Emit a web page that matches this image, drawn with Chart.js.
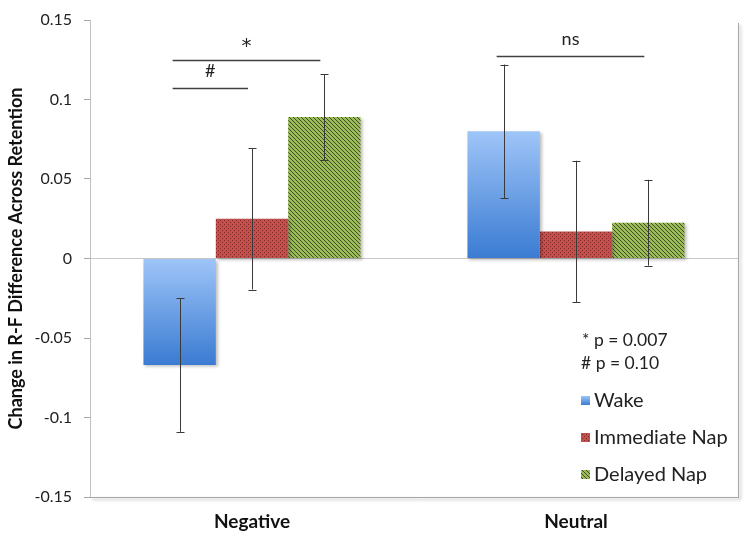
<!DOCTYPE html>
<html>
<head>
<meta charset="utf-8">
<script src="https://cdn.jsdelivr.net/npm/chart.js@4"></script>
<style>
  html, body { margin: 0; padding: 0; background: #fff; }
  #wrap { width: 749px; height: 534px; }
</style>
</head>
<body>
<div id="wrap"><canvas id="chart" width="749" height="534"></canvas></div>
<script>
const categories = ["Negative", "Neutral"];
const seriesNames = ["Wake", "Immediate Nap", "Delayed Nap"];
const wake = [-0.067, 0.080];
const immediateNap = [0.025, 0.017];
const delayedNap = [0.089, 0.0225];
const wakeErr = [0.042, 0.042];
const immediateErr = [0.0445, 0.0445];
const delayedErr = [0.027, 0.027];
const yTicks = [-0.15, -0.1, -0.05, 0, 0.05, 0.1, 0.15];
const notes = ["* p = 0.007", "# p = 0.10"];
// significance brackets: [label, y value, category, from series, to series]
const brackets = [
  ["*", 0.125, 0, 0, 2],
  ["#", 0.107, 0, 0, 1],
  ["ns", 0.1275, 1, 0, 2],
];

const FONT = "Lato, 'Open Sans', sans-serif";

function makePattern(base, dark, kind) {
  const c = document.createElement("canvas");
  c.width = 4; c.height = 4;
  const g = c.getContext("2d");
  g.fillStyle = base;
  g.fillRect(0, 0, 4, 4);
  g.fillStyle = dark;
  if (kind === "dots") {
    g.fillRect(0, 0, 1, 1);
    g.fillRect(2, 2, 1, 1);
  } else {
    for (let i = 0; i < 4; i++) g.fillRect(i, i, 1, 1);
  }
  return g.createPattern(c, "repeat");
}

const redPattern = makePattern("#c4504e", "#7a2927", "dots");
const greenPattern = makePattern("#9bbb59", "#3d4f22", "lines");

function blueGradient(ctx, y0, y1) {
  const gr = ctx.createLinearGradient(0, y0, 0, y1);
  gr.addColorStop(0, "#9fc5f8");
  gr.addColorStop(1, "#3a7bd2");
  return gr;
}

function wakeColor(context) {
  const chart = context.chart;
  const y = chart.scales.y;
  if (!chart.chartArea || !y || context.raw === undefined) return "#6a9fe4";
  const a = y.getPixelForValue(0);
  const b = y.getPixelForValue(context.raw);
  return blueGradient(chart.ctx, Math.min(a, b), Math.max(a, b));
}

const errors = [wakeErr, immediateErr, delayedErr];

const extras = {
  id: "extras",
  beforeDatasetsDraw(chart) {
    const { ctx } = chart;
    ctx.save();
    ctx.shadowColor = "rgba(0,0,0,0.25)";
    ctx.shadowOffsetX = 2;
    ctx.shadowOffsetY = 2;
    ctx.shadowBlur = 3;
  },
  afterDatasetsDraw(chart) {
    const { ctx, chartArea, scales } = chart;
    ctx.restore();
    const y = scales.y;

    // frame on the right with a soft shadow
    ctx.save();
    ctx.shadowColor = "rgba(0,0,0,0.3)";
    ctx.shadowOffsetX = 2;
    ctx.shadowOffsetY = 2;
    ctx.shadowBlur = 3;
    ctx.strokeStyle = "#a6a6a6";
    ctx.lineWidth = 1;
    ctx.beginPath();
    ctx.moveTo(chartArea.left, chartArea.bottom + 0.5);
    ctx.lineTo(chartArea.right + 0.5, chartArea.bottom + 0.5);
    ctx.lineTo(chartArea.right + 0.5, chartArea.top + 3);
    ctx.stroke();
    ctx.restore();

    // error bars
    ctx.save();
    ctx.strokeStyle = "#3a3a3a";
    ctx.lineWidth = 1;
    errors.forEach((err, i) => {
      const meta = chart.getDatasetMeta(i);
      meta.data.forEach((bar, j) => {
        const v = chart.data.datasets[i].data[j];
        const x = Math.round(bar.x) + 0.5;
        const top = y.getPixelForValue(v + err[j]);
        const bot = y.getPixelForValue(v - err[j]);
        ctx.beginPath();
        ctx.moveTo(x, top); ctx.lineTo(x, bot);
        ctx.moveTo(x - 4, Math.round(top) + 0.5); ctx.lineTo(x + 4, Math.round(top) + 0.5);
        ctx.moveTo(x - 4, Math.round(bot) + 0.5); ctx.lineTo(x + 4, Math.round(bot) + 0.5);
        ctx.stroke();
      });
    });
    ctx.restore();

    // significance brackets
    ctx.save();
    ctx.strokeStyle = "#404040";
    ctx.lineWidth = 1.5;
    ctx.fillStyle = "#222";
    ctx.textAlign = "center";
    ctx.textBaseline = "middle";
    brackets.forEach(([label, val, cat, s0, s1]) => {
      const x0 = chart.getDatasetMeta(s0).data[cat].x - 7;
      const x1 = chart.getDatasetMeta(s1).data[cat].x - 4;
      const yy = Math.round(y.getPixelForValue(val)) + 0.5;
      ctx.beginPath();
      ctx.moveTo(x0, yy); ctx.lineTo(x1, yy);
      ctx.stroke();
      if (label === "*") {
        ctx.font = "20px 'DejaVu Sans', sans-serif";
        ctx.fillText(label, (x0 + x1) / 2, yy - 14);
      } else {
        ctx.font = "18px " + FONT;
        ctx.fillText(label, (x0 + x1) / 2, yy - 17);
      }
    });
    ctx.restore();

    // p-value notes and legend
    ctx.save();
    ctx.fillStyle = "#222";
    ctx.font = "17.5px " + FONT;
    ctx.textBaseline = "middle";
    ctx.textAlign = "left";
    const nx = 581;
    ctx.fillText(notes[0], nx + 1, 340);
    ctx.fillText(notes[1], nx, 363);
    const fills = [null, redPattern, greenPattern];
    const ly = [400, 437, 474];
    ctx.font = "20px " + FONT;
    seriesNames.forEach((name, i) => {
      const sy = ly[i] - 4;
      ctx.fillStyle = i === 0 ? blueGradient(ctx, sy, sy + 9) : fills[i];
      ctx.fillRect(581, sy, 9, 9);
      ctx.fillStyle = "#222";
      ctx.fillText(name, 594, ly[i] + 1);
    });
    ctx.restore();
  }
};

new Chart(document.getElementById("chart"), {
  type: "bar",
  data: {
    labels: categories,
    datasets: [
      { label: seriesNames[0], data: wake, backgroundColor: wakeColor },
      { label: seriesNames[1], data: immediateNap, backgroundColor: redPattern },
      { label: seriesNames[2], data: delayedNap, backgroundColor: greenPattern },
    ],
  },
  options: {
    responsive: false,
    animation: false,
    events: [],
    layout: { padding: { top: 17, right: 11, left: 0, bottom: 0 } },
    datasets: { bar: { categoryPercentage: 0.67, barPercentage: 1.0, borderWidth: 0 } },
    plugins: {
      legend: { display: false },
      tooltip: { enabled: false },
    },
    scales: {
      x: {
        grid: { display: false },
        border: { color: "#a6a6a6" },
        ticks: { color: "#111", padding: 5, font: { family: FONT, size: 19, weight: "bold" } },
        afterFit(scale) { scale.height = 37; },
      },
      y: {
        min: -0.15,
        max: 0.15,
        afterBuildTicks(scale) { scale.ticks = yTicks.map(v => ({ value: v })); },
        grid: {
          drawOnChartArea: true,
          color: c => (c.tick && c.tick.value === 0 ? "#c8c8c8" : "rgba(0,0,0,0)"),
          tickColor: "#a6a6a6",
          tickLength: 6,
        },
        border: { color: "#bfbfbf" },
        ticks: {
          color: "#222",
          padding: 12,
          font: { family: FONT, size: 16, lineHeight: 1 },
          callback: v => String(Number(v.toFixed(2))),
        },
        title: {
          display: true,
          text: "Change in R-F Difference Across Retention",
          color: "#111",
          font: { family: FONT, size: 18, weight: "bold" },
          padding: { top: 5, bottom: 0 },
        },
        afterFit(scale) { scale.width = 90; },
      },
    },
  },
  plugins: [extras],
});
</script>
</body>
</html>
